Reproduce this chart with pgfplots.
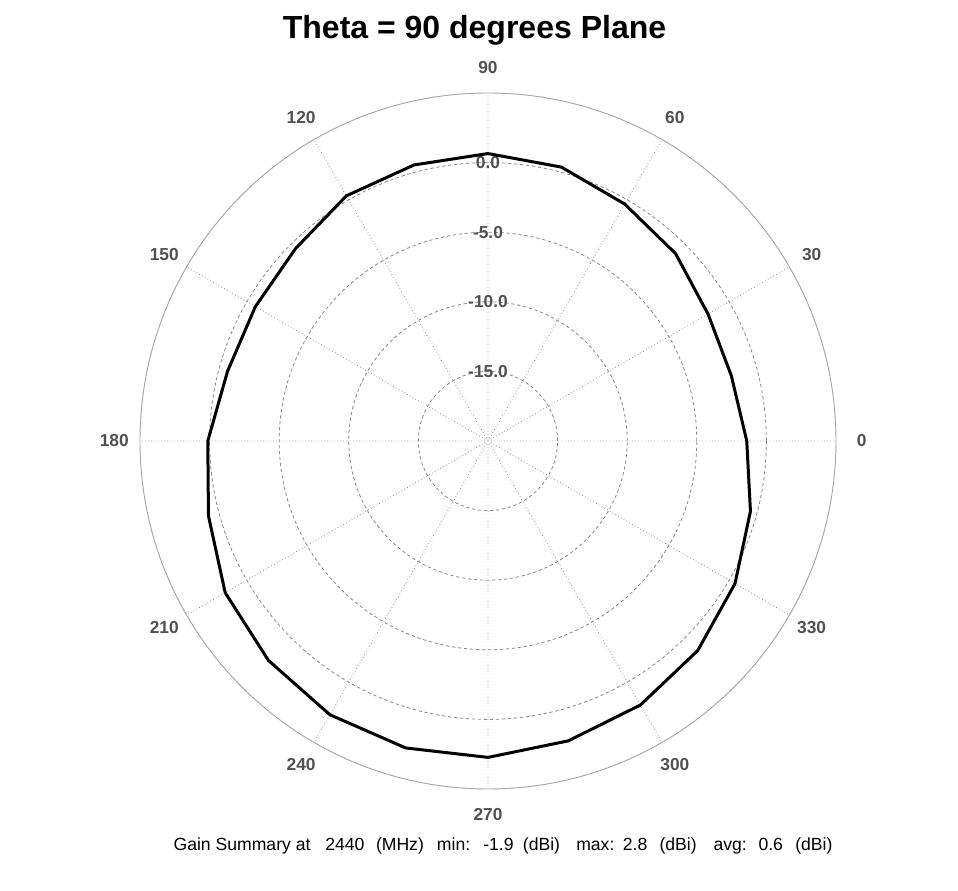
\documentclass[border=0pt]{standalone}
\usepackage{pgfplots}
\usepackage{pgfplotstable}
\pgfplotsset{compat=1.18}
\usepgfplotslibrary{polar}
\usepackage{fontspec}
\setmainfont{Liberation Sans}
\definecolor{gridgray}{RGB}{135,135,135}
\definecolor{spokegray}{RGB}{120,120,120}
\definecolor{rimgray}{RGB}{165,165,165}
\definecolor{labelgray}{RGB}{80,80,80}

% gain in dBi, every 15 degrees (phi)
\pgfplotstableread{
ang db
0   -1.41
15  -1.90
30  -1.75
45  -0.95
60  -0.35
75   0.37
90   0.65
105  0.53
120  0.34
135 -0.45
150 -0.70
165 -0.63
180  0.13
195  0.79
210  1.80
225  2.30
240  2.71
255  2.83
270  2.73
285  2.30
300  1.90
315  1.30
330  0.49
345 -0.48
360 -1.41
}\gaintable

\tikzset{
  lbl/.style={text=labelgray, font=\fontsize{13}{15}\selectfont\bfseries, inner sep=0pt},
  sumtxt/.style={font=\fontsize{13.2}{15}\selectfont, inner sep=0pt, anchor=base west},
}

\begin{document}
\begin{tikzpicture}
\begin{polaraxis}[
  scale only axis, width=522pt, height=522pt,
  xmin=0, xmax=360, ymin=0, ymax=25,
  xtick={0,30,...,330}, ytick={5,10,15,20},
  xticklabel=\empty, yticklabel=\empty,
  grid=major,
  x grid style={spokegray, dotted, line width=0.7pt},
  y grid style={gridgray, dash pattern=on 2.5pt off 2pt, line width=0.6pt},
  axis line style={rimgray, line width=0.7pt},
  y axis line style={draw=none},
  major tick length=0pt,
  clip=false,
  ]
  \coordinate (O) at (axis cs:0,0);
  % radial labels (dB), radius = dB + 20
  \node[lbl] at (axis cs:90,5) {-15.0};
  \node[lbl] at (axis cs:90,10) {-10.0};
  \node[lbl] at (axis cs:90,15) {-5.0};
  \node[lbl] at (axis cs:90,20) {0.0};
  % angle labels
  \pgfplotsinvokeforeach{0,30,...,330}{
    \node[lbl] at (axis cs:#1,26.85) {#1};
  }
  \addplot[black, line width=2.25pt, line join=miter, no markers]
    table[x=ang, y expr=\thisrow{db}+20] {\gaintable};
\end{polaraxis}
\node[font=\fontsize{24}{28}\selectfont\bfseries, anchor=base, inner sep=0pt]
  at ([shift={(-10.1pt,302pt)}]O) {Theta = 90 degrees Plane};
\node[sumtxt] at ([shift={(-236pt,-307.5pt)}]O) {Gain Summary at};
\node[sumtxt] at ([shift={(-122.25pt,-307.5pt)}]O) {2440};
\node[sumtxt] at ([shift={(-84.2pt,-307.5pt)}]O) {(MHz)};
\node[sumtxt] at ([shift={(-38.5pt,-307.5pt)}]O) {min:};
\node[sumtxt] at ([shift={(-3.75pt,-307.5pt)}]O) {-1.9};
\node[sumtxt] at ([shift={(26pt,-307.5pt)}]O) {(dBi)};
\node[sumtxt] at ([shift={(66pt,-307.5pt)}]O) {max:};
\node[sumtxt] at ([shift={(101pt,-307.5pt)}]O) {2.8};
\node[sumtxt] at ([shift={(128.5pt,-307.5pt)}]O) {(dBi)};
\node[sumtxt] at ([shift={(169pt,-307.5pt)}]O) {avg:};
\node[sumtxt] at ([shift={(202.7pt,-307.5pt)}]O) {0.6};
\node[sumtxt] at ([shift={(230.25pt,-307.5pt)}]O) {(dBi)};
\pgfresetboundingbox
\path[use as bounding box] ([shift={(-366pt,-337.5pt)}]O) rectangle ([shift={(352.5pt,330.75pt)}]O);
\end{tikzpicture}
\end{document}
